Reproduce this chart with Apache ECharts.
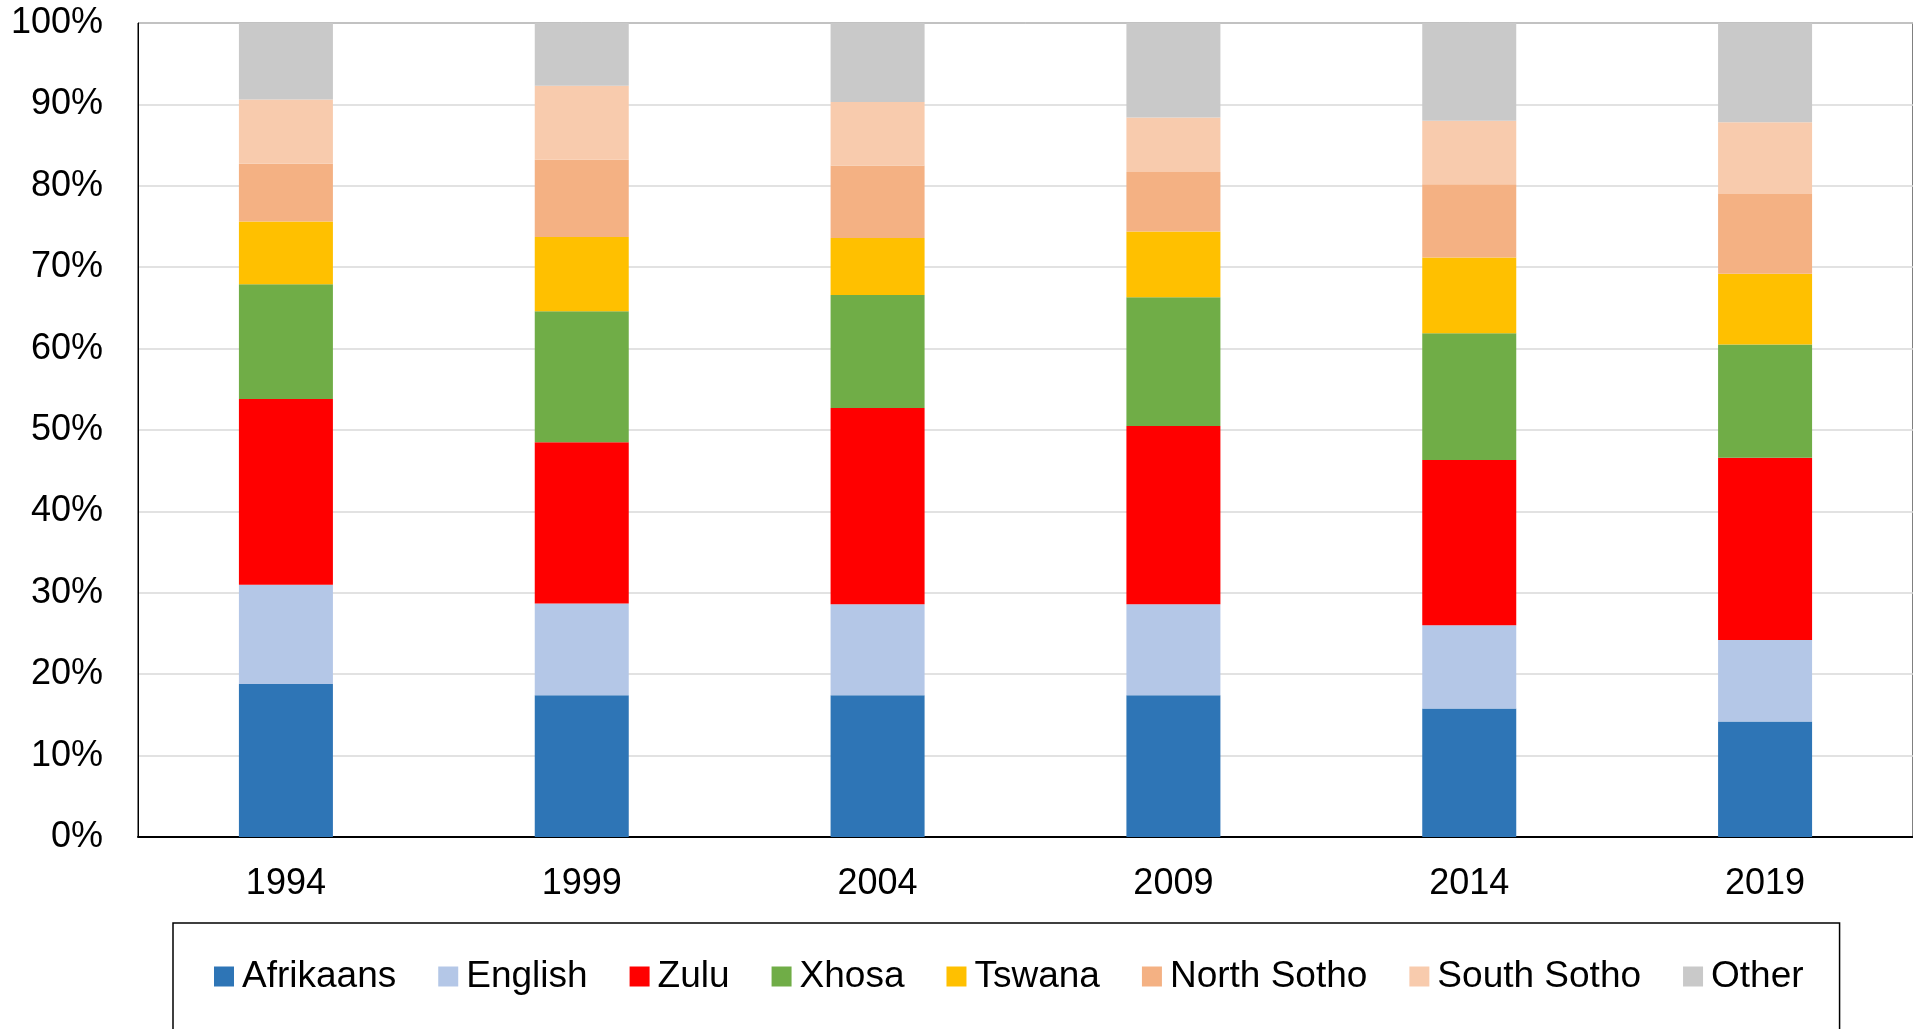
<!DOCTYPE html>
<html>
<head>
<meta charset="utf-8">
<title>Home language shares, 1994–2019</title>
<script src="https://cdn.jsdelivr.net/npm/echarts@6/dist/echarts.min.js"></script>
<style>
  html, body { margin: 0; padding: 0; background: #ffffff; }
  #chart { width: 1913px; height: 1029px; }
</style>
</head>
<body>
<div id="chart"></div>
<script>
// Survey years on the category axis
const years = ['1994', '1999', '2004', '2009', '2014', '2019'];

// Share of each language group per year (percent)
const afrikaans  = [18.8, 17.4, 17.4, 17.4, 15.8, 14.2];
const english    = [12.2, 11.3, 11.2, 11.2, 10.2, 10.0];
const zulu       = [22.8, 19.8, 24.1, 21.9, 20.3, 22.4];
const xhosa      = [14.1, 16.1, 13.9, 15.8, 15.6, 13.9];
const tswana     = [7.7, 9.1, 7.0, 8.1, 9.3, 8.7];
const northSotho = [7.1, 9.5, 8.9, 7.3, 9.0, 9.8];
const southSotho = [7.9, 9.1, 7.8, 6.7, 7.8, 8.8];
const other      = [9.4, 7.7, 9.7, 11.6, 12.0, 12.2];

const seriesNames = ['Afrikaans', 'English', 'Zulu', 'Xhosa', 'Tswana', 'North Sotho', 'South Sotho', 'Other'];
const seriesValues = [afrikaans, english, zulu, xhosa, tswana, northSotho, southSotho, other];
const seriesColors = ['#2E75B6', '#B4C7E7', '#FF0000', '#70AD47', '#FFC000', '#F4B183', '#F8CBAD', '#C9C9C9'];

const fontFamily = '"Liberation Sans", Arial, sans-serif';

const chart = echarts.init(document.getElementById('chart'), null, { renderer: 'canvas' });

chart.setOption({
  animation: false,
  backgroundColor: '#ffffff',
  textStyle: { fontFamily: fontFamily, color: '#000000' },
  grid: {
    left: 138,
    top: 23,
    right: -1,
    bottom: 192,
    show: true,
    borderColor: '#000000',
    borderWidth: 1,
    containLabel: false
  },
  legend: {
    data: seriesNames,
    left: 173,
    top: 923,
    orient: 'horizontal',
    icon: 'rect',
    itemWidth: 20,
    itemHeight: 20,
    itemGap: 42,
    padding: [35, 36, 120, 41],
    borderColor: '#000000',
    borderWidth: 1.5,
    textStyle: {
      fontFamily: fontFamily,
      fontSize: 37,
      color: '#000000',
      padding: [0, 0, 0, 3]
    }
  },
  xAxis: {
    type: 'category',
    data: years,
    axisLine: { show: true, lineStyle: { color: '#000000', width: 2 } },
    axisTick: { show: false },
    axisLabel: {
      fontFamily: fontFamily,
      fontSize: 36,
      color: '#000000',
      margin: 29
    },
    splitLine: { show: false }
  },
  yAxis: {
    type: 'value',
    min: 0,
    max: 100,
    interval: 10,
    axisLine: { show: true, lineStyle: { color: '#000000', width: 1 } },
    axisTick: { show: false },
    axisLabel: {
      fontFamily: fontFamily,
      fontSize: 36,
      color: '#000000',
      margin: 35,
      formatter: '{value}%'
    },
    splitLine: { show: true, lineStyle: { color: '#D9D9D9', width: 1.5 } }
  },
  series: seriesNames.map((name, i) => ({
    name: name,
    type: 'bar',
    stack: 'share',
    barWidth: 94,
    data: seriesValues[i],
    itemStyle: { color: seriesColors[i] },
    emphasis: { disabled: true }
  }))
});
</script>
</body>
</html>
